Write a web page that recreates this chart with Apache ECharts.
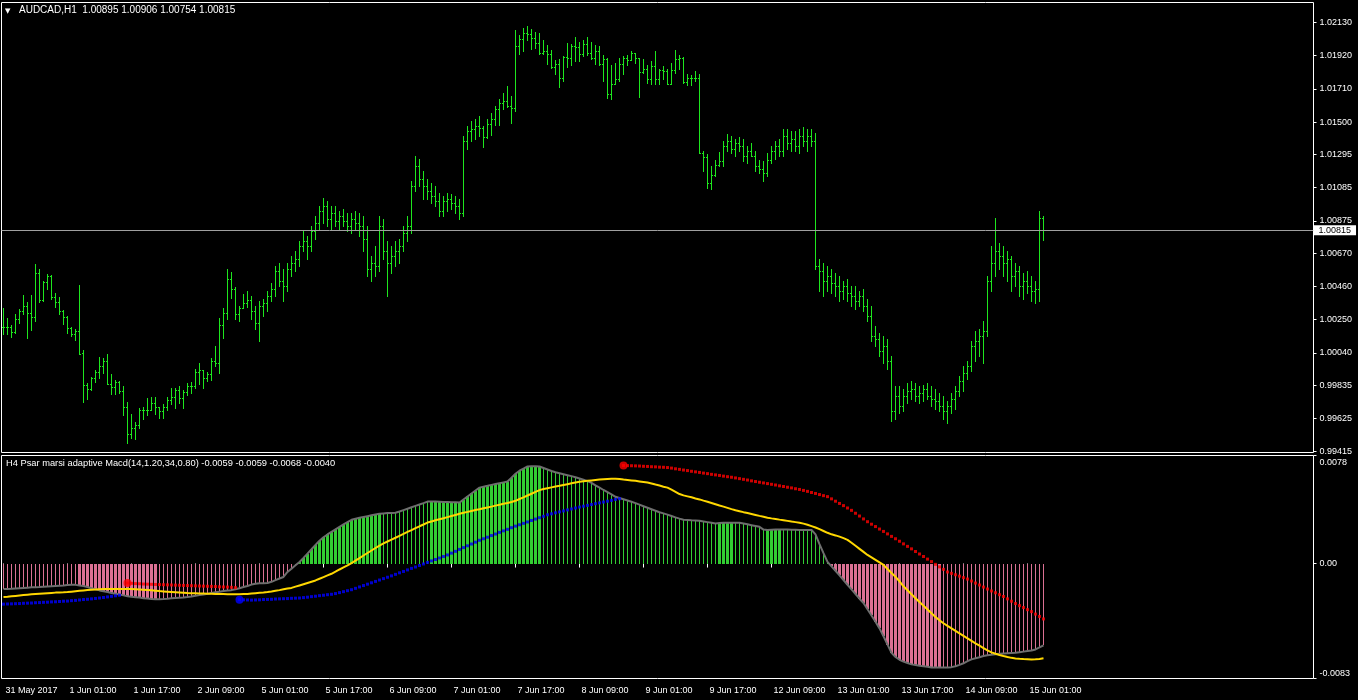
<!DOCTYPE html>
<html><head><meta charset="utf-8">
<script src="https://cdn.jsdelivr.net/npm/echarts@6/dist/echarts.min.js"></script>
<style>html,body{margin:0;padding:0;background:#000;}#c{width:1358px;height:700px;}</style>
</head><body><div id="c"></div>
<script>
const SYMBOL = 'AUDCAD,H1';
const INDICATOR_NAME = 'H4 Psar marsi adaptive Macd(14,1.20,34,0.80)';
const TIME_LABELS = ['31 May 2017','1 Jun 01:00','1 Jun 17:00','2 Jun 09:00','5 Jun 01:00','5 Jun 17:00','6 Jun 09:00','7 Jun 01:00','7 Jun 17:00','8 Jun 09:00','9 Jun 01:00','9 Jun 17:00','12 Jun 09:00','13 Jun 01:00','13 Jun 17:00','14 Jun 09:00','15 Jun 01:00'];
const LABEL_STEP = 16;
const PRICE_TICKS = [0.99415,0.99625,0.99835,1.00040,1.00250,1.00460,1.00670,1.00875,1.01085,1.01295,1.01500,1.01710,1.01920,1.02130];
const INDICATOR_TICKS = [-0.0083, 0, 0.0078];
const CURRENT_PRICE = 1.00815;

const OPEN = [
1.00204,1.00204,1.00204,1.00173,1.00255,1.00306,1.00337,1.00293,1.00268,1.00546,
1.00375,1.00489,1.00527,1.00394,1.00363,1.00306,1.00268,1.00198,1.00160,1.00179,
1.00040,0.99837,0.99812,0.99881,0.99919,0.99957,0.99989,0.99843,0.99824,0.99856,
0.99799,0.99698,0.99527,0.99565,0.99584,0.99679,0.99679,0.99679,0.99723,0.99698,
0.99672,0.99698,0.99742,0.99761,0.99805,0.99755,0.99793,0.99831,0.99831,0.99919,
0.99932,0.99881,0.99907,0.99989,0.99976,1.00217,1.00293,1.00508,1.00445,1.00287,
1.00325,1.00356,1.00375,1.00306,1.00230,1.00337,1.00356,1.00401,1.00445,1.00559,
1.00496,1.00464,1.00572,1.00610,1.00635,1.00717,1.00749,1.00717,1.00812,1.00863,
1.00939,1.00971,1.00888,1.00926,1.00876,1.00907,1.00876,1.00844,1.00888,1.00863,
1.00844,1.00762,1.00572,1.00610,1.00591,1.00844,1.00686,1.00610,1.00654,1.00686,
1.00717,1.00800,1.00844,1.01097,1.01224,1.01142,1.01097,1.01066,1.01034,1.01002,
1.00939,1.01002,1.01015,1.00990,1.00971,1.00926,1.01382,1.01446,1.01458,1.01477,
1.01465,1.01408,1.01490,1.01522,1.01585,1.01623,1.01636,1.01604,1.01591,1.01984,
1.02028,1.02066,1.02060,1.02035,1.02003,1.01940,1.01952,1.01933,1.01851,1.01870,
1.01781,1.01914,1.01908,1.01984,1.01978,1.01933,1.01997,1.01940,1.01908,1.01952,
1.01870,1.01902,1.01680,1.01743,1.01775,1.01870,1.01908,1.01895,1.01940,1.01908,
1.01819,1.01838,1.01775,1.01857,1.01775,1.01832,1.01826,1.01743,1.01832,1.01902,
1.01908,1.01756,1.01781,1.01781,1.01781,1.01306,1.01281,1.01116,1.01167,1.01230,
1.01256,1.01351,1.01382,1.01332,1.01370,1.01351,1.01287,1.01319,1.01287,1.01224,
1.01205,1.01180,1.01262,1.01319,1.01351,1.01319,1.01414,1.01370,1.01395,1.01351,
1.01414,1.01382,1.01414,1.01382,1.00591,1.00559,1.00496,1.00527,1.00483,1.00464,
1.00432,1.00464,1.00420,1.00401,1.00369,1.00401,1.00337,1.00274,1.00147,1.00128,
1.00052,1.00084,0.99989,0.99672,0.99767,0.99704,0.99767,0.99799,0.99812,0.99767,
0.99786,0.99812,0.99767,0.99748,0.99736,0.99704,0.99672,0.99704,0.99748,0.99799,
0.99862,0.99913,0.99957,1.00084,1.00116,1.00147,1.00179,1.00496,1.00610,1.00686,
1.00654,1.00610,1.00635,1.00527,1.00559,1.00464,1.00496,1.00464,1.00432,1.00445,
1.00895];
const HIGH = [
1.00325,1.00261,1.00217,1.00287,1.00318,1.00407,1.00363,1.00407,1.00603,1.00572,
1.00496,1.00540,1.00534,1.00420,1.00394,1.00312,1.00274,1.00204,1.00192,1.00470,
1.00059,0.99850,0.99888,0.99932,1.00014,1.00008,1.00033,0.99907,0.99869,0.99862,
0.99831,0.99729,0.99653,0.99603,0.99691,0.99698,0.99755,0.99761,0.99761,0.99698,
0.99717,0.99761,0.99818,0.99818,0.99831,0.99805,0.99850,0.99856,0.99938,0.99976,
0.99932,0.99919,1.00008,1.00084,1.00261,1.00325,1.00572,1.00553,1.00458,1.00337,
1.00413,1.00432,1.00401,1.00337,1.00369,1.00382,1.00432,1.00483,1.00591,1.00610,
1.00572,1.00610,1.00654,1.00686,1.00749,1.00812,1.00781,1.00844,1.00907,1.00971,
1.01021,1.01002,1.00971,1.00971,1.00939,1.00952,1.00926,1.00926,1.00939,1.00926,
1.00907,1.00844,1.00654,1.00717,1.00907,1.00888,1.00749,1.00717,1.00749,1.00762,
1.00844,1.00907,1.01129,1.01287,1.01268,1.01192,1.01142,1.01116,1.01097,1.01053,
1.01034,1.01053,1.01047,1.01034,1.01015,1.01414,1.01477,1.01509,1.01522,1.01541,
1.01477,1.01522,1.01560,1.01604,1.01648,1.01686,1.01731,1.01667,1.02085,1.02054,
1.02098,1.02111,1.02092,1.02073,1.02066,1.02022,1.01990,1.01959,1.01895,1.01902,
1.01921,1.02003,1.01997,1.02041,1.02009,1.02022,1.02041,1.02009,1.01990,1.01984,
1.01927,1.01908,1.01864,1.01876,1.01908,1.01921,1.01927,1.01952,1.01940,1.01908,
1.01902,1.01864,1.01889,1.01952,1.01838,1.01857,1.01838,1.01876,1.01959,1.01927,
1.01914,1.01807,1.01800,1.01826,1.01807,1.01319,1.01300,1.01224,1.01262,1.01313,
1.01382,1.01427,1.01414,1.01395,1.01408,1.01395,1.01351,1.01370,1.01319,1.01262,
1.01256,1.01306,1.01351,1.01382,1.01395,1.01458,1.01458,1.01446,1.01446,1.01458,
1.01471,1.01458,1.01458,1.01433,1.00635,1.00610,1.00591,1.00572,1.00546,1.00527,
1.00496,1.00508,1.00464,1.00464,1.00432,1.00445,1.00382,1.00337,1.00211,1.00166,
1.00147,1.00128,1.00021,0.99831,0.99831,0.99812,0.99850,0.99862,0.99850,0.99831,
0.99837,0.99850,0.99831,0.99812,0.99786,0.99767,0.99736,0.99786,0.99831,0.99894,
0.99957,0.99989,1.00116,1.00179,1.00192,1.00242,1.00527,1.00717,1.00895,1.00736,
1.00717,1.00686,1.00654,1.00610,1.00591,1.00546,1.00559,1.00527,1.00496,1.00939,
1.00906];
const LOW = [
1.00160,1.00160,1.00141,1.00166,1.00230,1.00287,1.00135,1.00185,1.00242,1.00363,
1.00369,1.00445,1.00382,1.00331,1.00287,1.00223,1.00166,1.00147,1.00122,1.00033,
0.99729,0.99748,0.99805,0.99856,0.99881,0.99913,0.99843,0.99780,0.99780,0.99786,
0.99647,0.99470,0.99501,0.99495,0.99565,0.99622,0.99647,0.99679,0.99653,0.99628,
0.99628,0.99679,0.99717,0.99691,0.99723,0.99691,0.99774,0.99786,0.99818,0.99843,
0.99818,0.99862,0.99869,0.99957,0.99913,1.00135,1.00255,1.00388,1.00255,1.00242,
1.00325,1.00331,1.00255,1.00192,1.00116,1.00274,1.00306,1.00369,1.00401,1.00464,
1.00369,1.00432,1.00527,1.00559,1.00591,1.00686,1.00635,1.00686,1.00762,1.00825,
1.00863,1.00844,1.00825,1.00844,1.00825,1.00844,1.00812,1.00800,1.00825,1.00781,
1.00686,1.00527,1.00496,1.00527,1.00559,1.00635,1.00401,1.00546,1.00591,1.00610,
1.00686,1.00749,1.00800,1.01066,1.01097,1.01015,1.01015,1.00990,1.00971,1.00907,
1.00907,1.00939,1.00952,1.00926,1.00888,1.00907,1.01332,1.01382,1.01395,1.01414,
1.01344,1.01401,1.01420,1.01484,1.01484,1.01585,1.01598,1.01496,1.01572,1.01933,
1.01952,1.02022,1.01965,1.01971,1.01933,1.01933,1.01870,1.01845,1.01807,1.01724,
1.01762,1.01851,1.01864,1.01889,1.01889,1.01921,1.01927,1.01902,1.01870,1.01864,
1.01762,1.01655,1.01648,1.01743,1.01762,1.01807,1.01864,1.01895,1.01876,1.01661,
1.01813,1.01750,1.01743,1.01743,1.01743,1.01775,1.01743,1.01743,1.01813,1.01838,
1.01750,1.01737,1.01737,1.01762,1.01306,1.01192,1.01085,1.01078,1.01161,1.01224,
1.01224,1.01319,1.01306,1.01287,1.01319,1.01256,1.01243,1.01287,1.01192,1.01180,
1.01129,1.01161,1.01243,1.01269,1.01287,1.01287,1.01332,1.01319,1.01319,1.01306,
1.01351,1.01319,1.01351,1.00572,1.00432,1.00401,1.00432,1.00420,1.00401,1.00369,
1.00382,1.00369,1.00337,1.00318,1.00337,1.00306,1.00242,1.00116,1.00084,1.00021,
0.99976,0.99938,0.99609,0.99622,0.99660,0.99672,0.99723,0.99748,0.99736,0.99723,
0.99736,0.99748,0.99704,0.99685,0.99672,0.99622,0.99596,0.99660,0.99685,0.99767,
0.99799,0.99875,0.99926,0.99989,1.00021,0.99976,1.00147,1.00432,1.00527,1.00572,
1.00527,1.00496,1.00432,1.00464,1.00401,1.00382,1.00420,1.00369,1.00356,1.00369,
1.00754];
const CLOSE = [
1.00204,1.00204,1.00173,1.00255,1.00306,1.00337,1.00293,1.00268,1.00546,1.00375,
1.00489,1.00527,1.00394,1.00363,1.00306,1.00268,1.00198,1.00160,1.00179,1.00033,
0.99837,0.99812,0.99881,0.99919,0.99957,0.99989,0.99843,0.99824,0.99856,0.99799,
0.99698,0.99527,0.99565,0.99584,0.99679,0.99679,0.99679,0.99723,0.99698,0.99672,
0.99698,0.99742,0.99761,0.99805,0.99755,0.99793,0.99831,0.99831,0.99919,0.99932,
0.99881,0.99907,0.99989,0.99976,1.00217,1.00293,1.00508,1.00445,1.00287,1.00325,
1.00356,1.00375,1.00306,1.00230,1.00337,1.00356,1.00401,1.00445,1.00559,1.00496,
1.00464,1.00572,1.00610,1.00635,1.00717,1.00749,1.00717,1.00812,1.00863,1.00939,
1.00971,1.00888,1.00926,1.00876,1.00907,1.00876,1.00844,1.00888,1.00863,1.00844,
1.00762,1.00572,1.00610,1.00591,1.00844,1.00686,1.00610,1.00654,1.00686,1.00717,
1.00800,1.00844,1.01097,1.01224,1.01142,1.01097,1.01066,1.01034,1.01002,1.00939,
1.01002,1.01015,1.00990,1.00971,1.00926,1.01382,1.01446,1.01458,1.01477,1.01465,
1.01408,1.01490,1.01522,1.01585,1.01623,1.01636,1.01604,1.01591,1.01984,1.02028,
1.02066,1.02060,1.02035,1.02003,1.01940,1.01952,1.01933,1.01851,1.01870,1.01781,
1.01914,1.01908,1.01984,1.01978,1.01933,1.01997,1.01940,1.01908,1.01952,1.01870,
1.01902,1.01680,1.01743,1.01775,1.01870,1.01908,1.01895,1.01940,1.01908,1.01819,
1.01838,1.01775,1.01857,1.01775,1.01832,1.01826,1.01743,1.01832,1.01902,1.01908,
1.01756,1.01781,1.01781,1.01781,1.01306,1.01281,1.01116,1.01167,1.01230,1.01256,
1.01351,1.01382,1.01332,1.01370,1.01351,1.01287,1.01319,1.01287,1.01224,1.01205,
1.01180,1.01262,1.01319,1.01351,1.01319,1.01414,1.01370,1.01395,1.01351,1.01414,
1.01382,1.01414,1.01382,1.00591,1.00559,1.00496,1.00527,1.00483,1.00464,1.00432,
1.00464,1.00420,1.00401,1.00369,1.00401,1.00337,1.00274,1.00147,1.00128,1.00052,
1.00084,0.99989,0.99672,0.99767,0.99704,0.99767,0.99799,0.99812,0.99767,0.99786,
0.99812,0.99767,0.99748,0.99736,0.99704,0.99672,0.99704,0.99748,0.99799,0.99862,
0.99913,0.99957,1.00084,1.00116,1.00147,1.00179,1.00496,1.00610,1.00686,1.00654,
1.00610,1.00635,1.00527,1.00559,1.00464,1.00496,1.00464,1.00432,1.00445,1.00895,
1.00815];

const MACD = [
-0.00184,-0.00183,-0.00182,-0.00180,-0.00178,-0.00176,-0.00174,-0.00172,-0.00171,-0.00170,
-0.00168,-0.00166,-0.00164,-0.00162,-0.00160,-0.00158,-0.00155,-0.00154,-0.00154,-0.00158,
-0.00162,-0.00170,-0.00178,-0.00186,-0.00194,-0.00200,-0.00206,-0.00212,-0.00218,-0.00224,
-0.00230,-0.00236,-0.00240,-0.00243,-0.00246,-0.00250,-0.00253,-0.00256,-0.00257,-0.00257,
-0.00256,-0.00254,-0.00251,-0.00249,-0.00247,-0.00245,-0.00242,-0.00238,-0.00233,-0.00228,
-0.00223,-0.00218,-0.00213,-0.00208,-0.00203,-0.00199,-0.00195,-0.00192,-0.00186,-0.00178,
-0.00170,-0.00162,-0.00152,-0.00146,-0.00143,-0.00142,-0.00141,-0.00132,-0.00120,-0.00108,
-0.00097,-0.00061,-0.00037,-0.00013,0.00011,0.00041,0.00072,0.00103,0.00135,0.00165,
0.00190,0.00210,0.00229,0.00247,0.00265,0.00282,0.00299,0.00316,0.00323,0.00330,
0.00336,0.00342,0.00348,0.00354,0.00360,0.00362,0.00364,0.00365,0.00367,0.00376,
0.00386,0.00396,0.00406,0.00416,0.00426,0.00436,0.00447,0.00447,0.00447,0.00446,
0.00445,0.00444,0.00443,0.00442,0.00440,0.00462,0.00484,0.00506,0.00527,0.00548,
0.00555,0.00561,0.00568,0.00574,0.00580,0.00586,0.00592,0.00620,0.00648,0.00670,
0.00686,0.00701,0.00702,0.00702,0.00701,0.00690,0.00679,0.00668,0.00659,0.00652,
0.00645,0.00638,0.00631,0.00623,0.00614,0.00605,0.00595,0.00583,0.00565,0.00548,
0.00531,0.00515,0.00499,0.00482,0.00473,0.00464,0.00455,0.00446,0.00436,0.00425,
0.00414,0.00403,0.00392,0.00381,0.00370,0.00362,0.00353,0.00343,0.00333,0.00324,
0.00316,0.00314,0.00312,0.00311,0.00309,0.00304,0.00299,0.00294,0.00289,0.00292,
0.00294,0.00295,0.00295,0.00294,0.00294,0.00289,0.00283,0.00277,0.00271,0.00265,
0.00245,0.00243,0.00244,0.00245,0.00246,0.00246,0.00245,0.00244,0.00244,0.00243,
0.00243,0.00243,0.00243,0.00210,0.00140,0.00075,0.00012,-0.00020,-0.00052,-0.00085,
-0.00119,-0.00153,-0.00187,-0.00220,-0.00254,-0.00285,-0.00330,-0.00375,-0.00420,-0.00468,
-0.00525,-0.00585,-0.00645,-0.00675,-0.00695,-0.00708,-0.00718,-0.00728,-0.00733,-0.00738,
-0.00742,-0.00746,-0.00750,-0.00750,-0.00750,-0.00750,-0.00750,-0.00748,-0.00742,-0.00732,
-0.00720,-0.00705,-0.00692,-0.00684,-0.00676,-0.00668,-0.00662,-0.00658,-0.00655,-0.00652,
-0.00650,-0.00648,-0.00646,-0.00644,-0.00640,-0.00636,-0.00632,-0.00628,-0.00620,-0.00606,
-0.00590];
const SIGNAL = [
-0.00242,-0.00240,-0.00237,-0.00234,-0.00231,-0.00228,-0.00225,-0.00222,-0.00220,-0.00218,
-0.00216,-0.00214,-0.00212,-0.00210,-0.00209,-0.00208,-0.00206,-0.00203,-0.00200,-0.00197,
-0.00194,-0.00191,-0.00189,-0.00187,-0.00185,-0.00184,-0.00184,-0.00183,-0.00183,-0.00183,
-0.00183,-0.00184,-0.00184,-0.00185,-0.00187,-0.00189,-0.00191,-0.00193,-0.00196,-0.00199,
-0.00201,-0.00203,-0.00205,-0.00207,-0.00209,-0.00211,-0.00213,-0.00214,-0.00215,-0.00216,
-0.00217,-0.00218,-0.00219,-0.00220,-0.00220,-0.00220,-0.00221,-0.00221,-0.00221,-0.00221,
-0.00220,-0.00220,-0.00217,-0.00214,-0.00211,-0.00209,-0.00206,-0.00202,-0.00197,-0.00192,
-0.00186,-0.00180,-0.00176,-0.00167,-0.00158,-0.00149,-0.00140,-0.00131,-0.00122,-0.00110,
-0.00098,-0.00086,-0.00074,-0.00059,-0.00043,-0.00028,-0.00013,0.00003,0.00021,0.00039,
0.00058,0.00076,0.00094,0.00112,0.00130,0.00145,0.00159,0.00173,0.00186,0.00200,
0.00214,0.00228,0.00241,0.00255,0.00269,0.00282,0.00296,0.00304,0.00312,0.00320,
0.00327,0.00335,0.00343,0.00351,0.00359,0.00367,0.00373,0.00380,0.00386,0.00392,
0.00399,0.00405,0.00411,0.00418,0.00424,0.00431,0.00437,0.00444,0.00453,0.00466,
0.00478,0.00491,0.00504,0.00517,0.00530,0.00538,0.00544,0.00550,0.00556,0.00561,
0.00567,0.00573,0.00579,0.00585,0.00590,0.00594,0.00597,0.00600,0.00603,0.00606,
0.00609,0.00611,0.00613,0.00613,0.00610,0.00606,0.00603,0.00600,0.00597,0.00593,
0.00589,0.00585,0.00578,0.00570,0.00563,0.00555,0.00548,0.00533,0.00518,0.00502,
0.00492,0.00485,0.00478,0.00470,0.00463,0.00454,0.00446,0.00437,0.00428,0.00419,
0.00411,0.00402,0.00393,0.00385,0.00378,0.00371,0.00365,0.00358,0.00351,0.00344,
0.00338,0.00331,0.00326,0.00322,0.00317,0.00313,0.00308,0.00303,0.00299,0.00295,
0.00288,0.00280,0.00270,0.00260,0.00248,0.00235,0.00222,0.00211,0.00203,0.00194,
0.00183,0.00171,0.00150,0.00128,0.00106,0.00084,0.00062,0.00044,0.00026,0.00008,
-0.00010,-0.00039,-0.00068,-0.00096,-0.00128,-0.00164,-0.00193,-0.00222,-0.00250,-0.00278,
-0.00305,-0.00332,-0.00359,-0.00386,-0.00410,-0.00431,-0.00450,-0.00468,-0.00486,-0.00504,
-0.00522,-0.00540,-0.00558,-0.00576,-0.00593,-0.00610,-0.00627,-0.00641,-0.00651,-0.00660,
-0.00668,-0.00675,-0.00681,-0.00685,-0.00688,-0.00690,-0.00691,-0.00692,-0.00691,-0.00689,
-0.00684];
// bars where the histogram is drawn wide (strong state of the indicator)
const STRONG_RUNS = [[19,38],[74,94],[107,134],[179,182],[191,194],[207,234]];

// PSAR of the indicator: segments (start bar index + values)
const PSAR_UP_1_START = 0;
const PSAR_UP_1 = [-0.00293,-0.00292,-0.00291,-0.00290,-0.00289,-0.00287,-0.00286,-0.00285,-0.00283,-0.00282,-0.00280,-0.00279,-0.00277,-0.00276,-0.00274,-0.00272,-0.00271,-0.00268,-0.00266,-0.00263,-0.00260,-0.00258,-0.00255,-0.00252,-0.00249,-0.00245,-0.00241,-0.00237,-0.00233,-0.00229];
const PSAR_DOWN_1_START = 31;
const PSAR_DOWN_1 = [-0.00141,-0.00143,-0.00145,-0.00146,-0.00148,-0.00149,-0.00150,-0.00151,-0.00152,-0.00153,-0.00154,-0.00155,-0.00156,-0.00157,-0.00158,-0.00159,-0.00160,-0.00161,-0.00162,-0.00163,-0.00164,-0.00165,-0.00166,-0.00168,-0.00169,-0.00170,-0.00172,-0.00174];
const PSAR_UP_2_START = 59;
const PSAR_UP_2 = [-0.00261,-0.00262,-0.00263,-0.00264,-0.00263,-0.00262,-0.00260,-0.00259,-0.00258,-0.00256,-0.00255,-0.00254,-0.00253,-0.00251,-0.00250,-0.00249,
-0.00246,-0.00243,-0.00239,-0.00236,-0.00232,-0.00229,-0.00225,-0.00222,
-0.00217,-0.00210,-0.00203,-0.00196,-0.00189,
-0.00179,-0.00169,-0.00159,-0.00149,-0.00139,-0.00129,-0.00119,-0.00109,-0.00099,-0.00089,-0.00078,-0.00067,-0.00057,-0.00046,-0.00035,-0.00025,-0.00014,-0.00003,0.00008,0.00019,0.00029,0.00040,0.00051,0.00062,
0.00075,0.00088,0.00102,0.00115,0.00128,0.00141,0.00154,0.00168,
0.00179,0.00190,0.00202,0.00213,0.00225,0.00236,0.00247,0.00259,0.00270,0.00280,0.00290,0.00300,0.00311,0.00321,0.00331,0.00341,0.00352,
0.00359,0.00366,0.00373,0.00380,0.00387,0.00394,0.00401,0.00408,0.00414,0.00420,0.00426,0.00432,0.00438,0.00444,0.00450,0.00456,0.00463,0.00468];
const PSAR_DOWN_2_START = 155;
const PSAR_DOWN_2 = [0.00708,0.00707,0.00706,0.00705,0.00704,0.00702,0.00701,0.00699,0.00698,0.00696,0.00695,0.00693,
0.00689,0.00684,0.00680,0.00675,0.00671,0.00666,0.00662,0.00658,
0.00653,0.00649,0.00644,0.00640,0.00636,0.00631,0.00627,0.00623,
0.00618,0.00613,0.00608,0.00603,0.00597,0.00592,0.00587,0.00582,0.00577,
0.00572,0.00567,0.00561,0.00556,0.00551,0.00546,0.00540,0.00535,
0.00528,0.00521,0.00513,0.00506,0.00498,0.00490,0.00483,
0.00467,0.00450,0.00434,0.00418,0.00401,
0.00384,0.00363,0.00343,0.00322,0.00302,
0.00284,0.00267,0.00249,0.00232,0.00214,0.00196,0.00179,0.00161,
0.00142,0.00124,0.00106,0.00087,0.00069,0.00051,0.00032,0.00014,
-0.00006,-0.00024,-0.00042,-0.00061,
-0.00071,-0.00081,-0.00091,-0.00102,-0.00112,
-0.00126,-0.00141,-0.00155,-0.00170,-0.00184,
-0.00198,-0.00211,-0.00225,
-0.00238,-0.00255,-0.00272,-0.00289,
-0.00304,-0.00318,-0.00333,-0.00347,
-0.00365,-0.00382,-0.00400];

// ---------- build ----------
const N = CLOSE.length;
const SLOTS = 328;
const cats = Array.from({length: SLOTS}, (_, i) => String(i));
const BAR_COLOR = '#1ee61e';
const GREEN = '#32cd32', PINK = '#db7093';
const FONT = 'Liberation Sans, Arial, sans-serif';

const ohlcData = OPEN.map((o, i) => [i, o, HIGH[i], LOW[i], CLOSE[i]]);
const isStrong = i => STRONG_RUNS.some(r => i >= r[0] && i <= r[1]);
const histData = MACD.map((v, i) => [i, v, isStrong(i) ? 1 : 0]);
const seg = (start, arr) => arr.map((v, k) => [start + k, v]);
const upDots = seg(PSAR_UP_1_START, PSAR_UP_1).concat(seg(PSAR_UP_2_START, PSAR_UP_2));
const downDots = seg(PSAR_DOWN_1_START, PSAR_DOWN_1).concat(seg(PSAR_DOWN_2_START, PSAR_DOWN_2));
const upHeads = [[PSAR_UP_2_START, PSAR_UP_2[0]]];
const downHeads = [[PSAR_DOWN_1_START, PSAR_DOWN_1[0]], [PSAR_DOWN_2_START, PSAR_DOWN_2[0]]];

function renderOHLC(params, api) {
  const i = api.value(0);
  const pO = api.coord([i, api.value(1)]);
  const pH = api.coord([i, api.value(2)]);
  const pL = api.coord([i, api.value(3)]);
  const pC = api.coord([i, api.value(4)]);
  const x = Math.floor(pH[0]);
  const yH = Math.round(pH[1]), yL = Math.round(pL[1]);
  const st = {fill: BAR_COLOR};
  return {type: 'group', children: [
    {type: 'rect', shape: {x: x, y: yH, width: 1, height: Math.max(1, yL - yH + 1)}, style: st},
    {type: 'rect', shape: {x: x - 1, y: Math.round(pO[1]), width: 1, height: 1}, style: st},
    {type: 'rect', shape: {x: x + 1, y: Math.round(pC[1]), width: 1, height: 1}, style: st}
  ]};
}
function renderHist(params, api) {
  const i = api.value(0), v = api.value(1), strong = api.value(2);
  const p0 = api.coord([i, 0]), p1 = api.coord([i, v]);
  const x = Math.floor(p0[0]);
  const y0 = Math.round(p0[1]), y1 = Math.round(p1[1]);
  return {type: 'rect', shape: {x: strong ? x - 1 : x, y: Math.min(y0, y1), width: strong ? 3 : 1, height: Math.abs(y1 - y0)},
    style: {fill: v >= 0 ? GREEN : PINK}};
}

const last = N - 1;
const headerText = SYMBOL + '  ' + [OPEN[last], HIGH[last], LOW[last], CLOSE[last]].map(v => v.toFixed(5)).join(' ');
const subText = INDICATOR_NAME + ' ' + [MACD[last], MACD[last], SIGNAL[last], PSAR_DOWN_2[PSAR_DOWN_2.length - 1]].map(v => v.toFixed(4)).join(' ');

const graphics = [
  {type: 'text', left: 5, top: 8, style: {text: '\u25BC', fill: '#fff', font: '7px DejaVu Sans'}},
  {type: 'text', left: 19, top: 5, style: {text: headerText, fill: '#fff', font: '10px ' + FONT}},
  {type: 'text', left: 6, top: 459, style: {text: subText, fill: '#fff', font: '9.3px ' + FONT}}
];

const chart = echarts.init(document.getElementById('c'), null, {renderer: 'canvas'});
chart.setOption({
  animation: false,
  backgroundColor: '#000',
  textStyle: {fontFamily: FONT},
  grid: [
    {left: 1.5, top: 2.5, width: SLOTS * 4, height: 450, show: true, borderColor: '#fff', borderWidth: 1},
    {left: 1.5, top: 455.5, width: SLOTS * 4, height: 223, show: true, borderColor: '#fff', borderWidth: 1}
  ],
  xAxis: [
    {type: 'category', gridIndex: 0, data: cats, boundaryGap: true, axisLine: {show: false}, axisTick: {show: false}, axisLabel: {show: false}, splitLine: {show: false}},
    {type: 'category', gridIndex: 1, data: cats, boundaryGap: true, position: 'bottom',
      axisLine: {show: false},
      axisTick: {show: true, alignWithLabel: true, length: 4, lineStyle: {color: '#fff'}, interval: (idx) => idx % LABEL_STEP === 0 && idx / LABEL_STEP < TIME_LABELS.length},
      axisLabel: {show: true, color: '#fff', fontSize: 9, fontFamily: FONT, align: 'left', margin: 8, padding: [0, 0, 0, 2],
        interval: (idx) => idx % LABEL_STEP === 0 && idx / LABEL_STEP < TIME_LABELS.length,
        formatter: (val, idx) => TIME_LABELS[idx / LABEL_STEP] || ''},
      splitLine: {show: false}}
  ],
  yAxis: [
    {type: 'value', gridIndex: 0, position: 'right', min: 0.99409, max: 1.02257,
      axisLine: {show: false}, splitLine: {show: false},
      axisTick: {show: true, length: 3, lineStyle: {color: '#fff'}, customValues: PRICE_TICKS},
      axisLabel: {show: true, color: '#fff', fontSize: 9, fontFamily: FONT, margin: 6, customValues: PRICE_TICKS, formatter: v => v.toFixed(5)}},
    {type: 'value', gridIndex: 1, position: 'right', min: -0.0083, max: 0.0078,
      axisLine: {show: false}, splitLine: {show: false},
      axisTick: {show: true, length: 3, lineStyle: {color: '#fff'}, customValues: INDICATOR_TICKS},
      axisLabel: {show: true, color: '#fff', fontSize: 9, fontFamily: FONT, margin: 6, customValues: INDICATOR_TICKS,
        verticalAlignMaxLabel: 'top', verticalAlignMinLabel: 'bottom',
        formatter: v => v === 0 ? '0.00' : (v > 0 ? '{top|' + v.toFixed(4) + '}' : v.toFixed(4)),
        rich: {top: {padding: [3, 0, 0, 0], color: '#fff', fontSize: 9, fontFamily: FONT}}}}
  ],
  series: [
    {type: 'custom', name: 'price', xAxisIndex: 0, yAxisIndex: 0, data: ohlcData, renderItem: renderOHLC, encode: {x: 0, y: [1, 2, 3, 4]}, z: 3,
      markLine: {silent: true, symbol: ['none', 'none'], animation: false, precision: 5,
        lineStyle: {color: '#a0a0a0', type: 'solid', width: 1},
        label: {show: true, position: 'end', distance: 0, formatter: () => CURRENT_PRICE.toFixed(5), color: '#000', backgroundColor: '#fff', fontSize: 9, fontFamily: FONT, padding: [1, 5, 0, 5]},
        data: [{yAxis: CURRENT_PRICE}]}},
    {type: 'custom', name: 'hist', xAxisIndex: 1, yAxisIndex: 1, data: histData, renderItem: renderHist, encode: {x: 0, y: 1}, z: 2},
    {type: 'line', name: 'macd', xAxisIndex: 1, yAxisIndex: 1, data: MACD, showSymbol: false, symbol: 'none', lineStyle: {color: '#6e6e6e', width: 2}, z: 3},
    {type: 'line', name: 'signal', xAxisIndex: 1, yAxisIndex: 1, data: SIGNAL, showSymbol: false, symbol: 'none', lineStyle: {color: '#ffd700', width: 2}, z: 4},
    {type: 'scatter', name: 'psarUp', xAxisIndex: 1, yAxisIndex: 1, data: upDots, symbol: 'rect', symbolSize: 3, itemStyle: {color: '#0000ff'}, z: 5},
    {type: 'scatter', name: 'psarDown', xAxisIndex: 1, yAxisIndex: 1, data: downDots, symbol: 'rect', symbolSize: 3, itemStyle: {color: '#ff0000'}, z: 5},
    {type: 'scatter', name: 'psarUpHead', xAxisIndex: 1, yAxisIndex: 1, data: upHeads, symbol: 'circle', symbolSize: 8, itemStyle: {color: '#0000ff'}, z: 6},
    {type: 'scatter', name: 'psarDownHead', xAxisIndex: 1, yAxisIndex: 1, data: downHeads, symbol: 'circle', symbolSize: 8, itemStyle: {color: '#ff0000'}, z: 6}
  ],
  graphic: graphics
});
</script>
</body></html>
